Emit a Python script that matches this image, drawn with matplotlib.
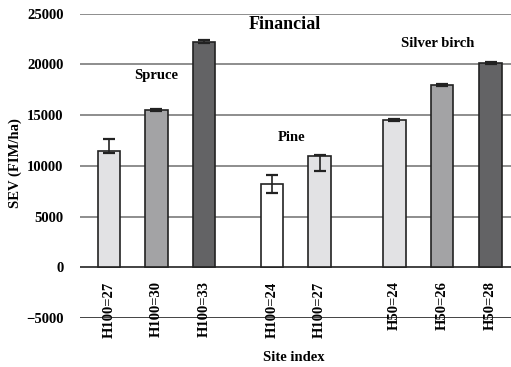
import matplotlib
matplotlib.use("Agg")
import matplotlib.pyplot as plt
import numpy as np

plt.rcParams['font.family'] = ['Liberation Serif', 'DejaVu Serif']
plt.rcParams['font.weight'] = 'bold'

# Site-index classes per species group
site_labels = ["H100=27", "H100=30", "H100=33",
               "H100=24", "H100=27",
               "H50=24", "H50=26", "H50=28"]
sev_values = [11500, 15550, 22250, 8200, 10950, 14500, 18000, 20100]
err_low = [280, 100, 100, 900, 1450, 100, 100, 100]
err_high = [1100, 100, 100, 900, 100, 100, 100, 100]
bar_colors = ["#e2e2e4", "#a3a3a5", "#636365",
              "#ffffff", "#e2e2e4",
              "#e2e2e4", "#a3a3a5", "#636365"]
positions = [0, 1, 2, 3.43, 4.43, 6, 7, 8.02]

fig = plt.figure(figsize=(5.11, 3.67), dpi=100)
ax = fig.add_axes([0.157, 0.133, 0.843, 0.83])

ax.set_ylim(-5000, 25000)
ax.set_xlim(-0.6, 8.45)

yticks = [-5000, 0, 5000, 10000, 15000, 20000, 25000]
for yv in yticks:
    col = "#222222" if yv in (0, -5000) else "#7a7a7a"
    ax.axhline(yv, color=col, lw=1.2, zorder=0)

ax.bar(positions, sev_values, width=0.47, color=bar_colors,
       edgecolor="#222222", linewidth=1.2, zorder=2,
       yerr=[err_low, err_high], error_kw=dict(ecolor="#222222", lw=1.2, capsize=4, capthick=1.6))

ax.set_yticks(yticks)
ax.set_yticklabels(["\u22125000", "0", "5000", "10000", "15000", "20000", "25000"], fontsize=10.5)
ax.tick_params(axis='y', length=0, pad=12)

ax.spines['bottom'].set_position(('data', 0))
for s in ax.spines.values():
    s.set_visible(False)
ax.set_xticks(positions)
ax.set_xticklabels(site_labels, rotation=90, fontsize=10.5, va='top')
ax.tick_params(axis='x', length=0, pad=10)

ax.text(3.7, 23900, "Financial", ha='center', va='center', fontsize=13)
ax.text(1.0, 18900, "Spruce", ha='center', va='center', fontsize=10.5)
ax.text(3.85, 12800, "Pine", ha='center', va='center', fontsize=10.5)
ax.text(6.92, 22100, "Silver birch", ha='center', va='center', fontsize=10.5)

fig.text(0.03, 0.555, "SEV (FIM/ha)", rotation=90, ha='center', va='center', fontsize=10.5)
fig.text(0.575, 0.025, "Site index", ha='center', va='center', fontsize=10.5)

fig.savefig("out.png", dpi=100)
